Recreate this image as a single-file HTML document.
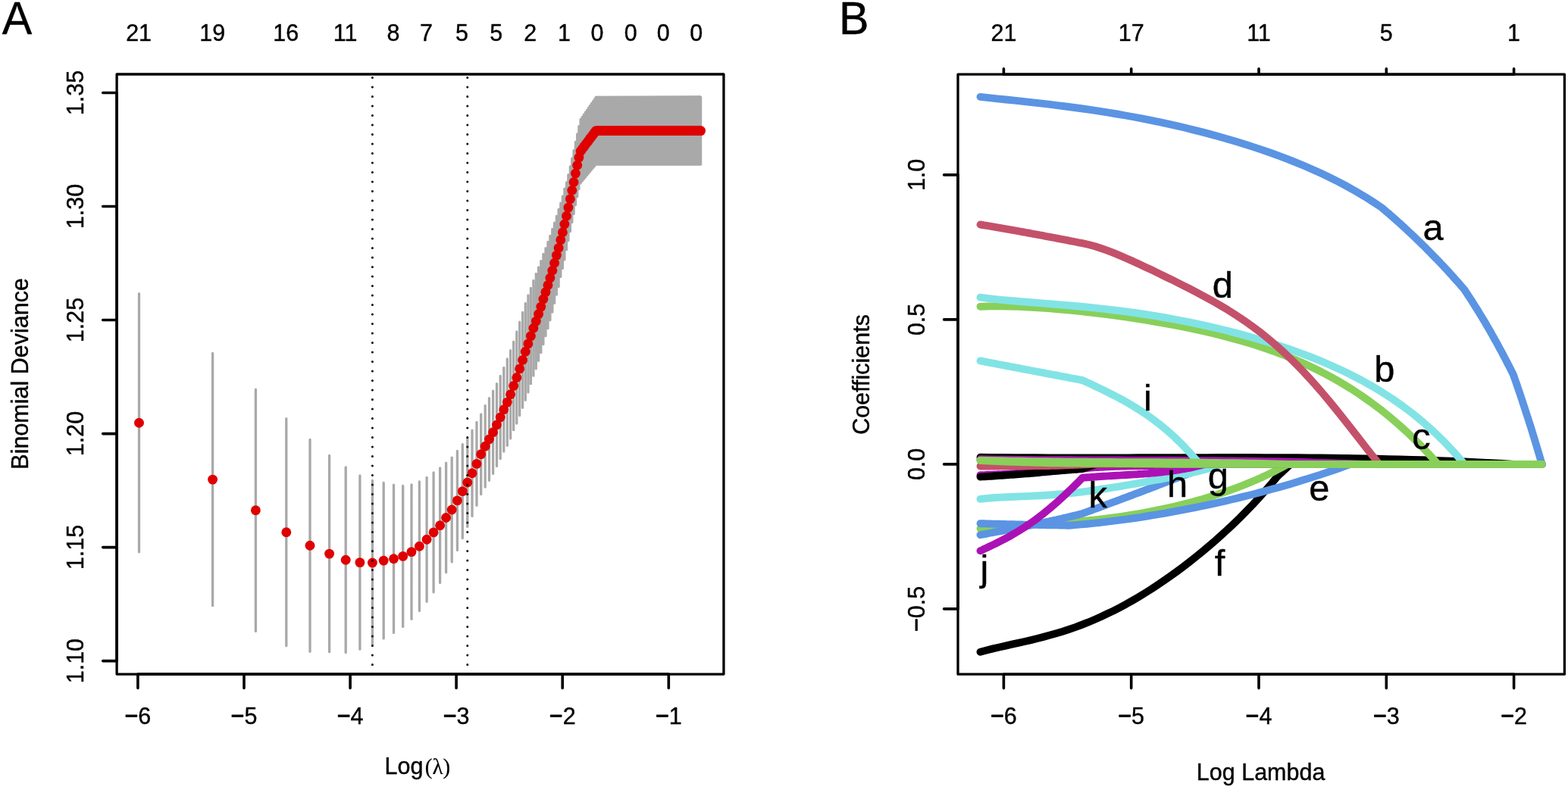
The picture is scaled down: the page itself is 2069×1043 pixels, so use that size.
<!DOCTYPE html>
<html lang="en"><head><meta charset="utf-8"><title>LASSO plots</title>
<style>html,body{margin:0;padding:0;background:#fff}body{width:2069px;height:1043px}svg{display:block}text{white-space:pre}</style></head>
<body><svg width="2069" height="1043" viewBox="0 0 2069 1043">
<rect width="2069" height="1043" fill="#fff"/>
<g id="panelA">
<path d="M183.5 387.6V728.8M280.6 466.5V799.7M337.4 514.2V833.4M377.8 552.7V852.7M409.0 580.3V860.3M434.6 601.5V860.7M456.2 616.8V861.6M474.9 628.0V857.2M491.4 634.5V851.5M506.2 637.3V842.9M519.5 640.2V835.4M531.7 641.4V827.4M543.0 639.8V817.4M553.4 636.0V806.6M563.1 630.3V794.3M572.1 623.9V781.9M580.6 618.0V769.4M588.6 611.2V755.8M596.2 604.1V741.9M603.4 595.4V726.4M610.3 586.6V710.6M616.8 578.6V695.4M623.0 568.2V681.4M629.0 557.5V667.3M634.7 546.9V652.5M640.2 535.5V643.1M645.5 525.7V634.3M650.6 516.2V625.4M655.5 506.6V615.4M660.2 496.3V605.7M664.8 485.5V596.1M669.3 473.9V588.3M673.6 462.7V578.9M677.7 451.1V567.7M681.8 438.0V559.0M685.7 425.2V548.6M689.6 412.5V538.3M693.3 400.3V528.3M696.9 389.9V517.9M700.4 380.5V506.7M703.9 370.4V496.0M707.3 361.5V486.7M710.6 352.9V476.3M713.8 344.6V465.6M716.9 335.4V454.6M720.0 327.7V443.5M723.0 319.4V433.6M725.9 311.3V422.7M728.8 302.5V412.1M731.6 294.2V400.2M734.4 285.3V388.9M737.1 276.4V378.4M739.8 268.1V365.3M742.4 259.1V354.3M744.9 249.2V342.8M747.5 240.9V329.7M749.9 230.6V317.6M752.4 219.8V305.6M754.8 209.1V293.5M757.1 198.6V282.4M759.4 187.5V270.5M761.7 177.0V259.7M763.9 166.6V249.6M766.1 157.4V241.8M768.3 154.3V239.1M770.4 151.2V236.5M772.5 148.2V234.0M774.6 145.2V231.4M776.6 142.2V228.9M778.6 139.3V226.5M780.6 136.5V224.1M782.6 133.6V221.7M784.5 130.8V219.4M786.4 128.1V217.1M788.3 128.1V217.1M790.1 128.1V217.1M791.9 128.1V217.1M793.7 128.1V217.1M795.5 128.1V217.1M797.2 128.1V217.1M799.0 128.1V217.1M800.7 128.1V217.1M802.4 128.1V217.1M804.0 128.1V217.1M805.7 128.1V217.1M807.3 128.1V217.1M808.9 128.1V217.1M810.5 128.1V217.1M812.1 128.1V217.1M813.6 128.1V217.1M815.1 128.1V217.1M816.7 128.1V217.1M818.2 128.1V217.1M819.7 128.1V217.1M821.1 128.1V217.1M822.6 128.1V217.1M824.0 128.1V217.1M825.4 128.1V217.1M826.9 128.1V217.1M828.3 128.1V217.1M829.6 128.1V217.1M831.0 128.1V217.1M832.4 128.1V217.1M833.7 128.1V217.1M835.0 128.1V217.1M836.4 128.1V217.1M837.7 128.1V217.1M839.0 128.1V217.1M840.2 128.1V217.1M841.5 128.1V217.1M842.8 128.1V217.1M844.0 128.1V217.1M845.2 128.1V217.1M846.5 128.1V217.1M847.7 128.1V217.1M848.9 128.1V217.1M850.1 128.1V217.1M851.3 128.1V217.1M852.4 128.1V217.1M853.6 128.1V217.1M854.7 128.1V217.1M855.9 128.1V217.1M857.0 128.1V217.1M858.1 128.1V217.1M859.3 128.1V217.1M860.4 128.1V217.1M861.5 128.1V217.1M862.6 128.1V217.1M863.6 128.1V217.1M864.7 128.1V217.1M865.8 128.1V217.1M866.8 128.1V217.1M867.9 128.1V217.1M868.9 128.1V217.1M870.0 128.1V217.1M871.0 128.1V217.1M872.0 128.1V217.1M873.0 128.1V217.1M874.0 128.1V217.1M875.0 128.1V217.1M876.0 128.1V217.1M877.0 128.1V217.1M878.0 128.1V217.1M878.9 128.1V217.1M879.9 128.1V217.1M880.8 128.1V217.1M881.8 128.1V217.1M882.7 128.1V217.1M883.7 128.1V217.1M884.6 128.1V217.1M885.5 128.1V217.1M886.4 128.1V217.1M887.4 128.1V217.1M888.3 128.1V217.1M889.2 128.1V217.1M890.1 128.1V217.1M890.9 128.1V217.1M891.8 128.1V217.1M892.7 128.1V217.1M893.6 128.1V217.1M894.4 128.1V217.1M895.3 128.1V217.1M896.2 128.1V217.1M897.0 128.1V217.1M897.8 128.1V217.1M898.7 128.1V217.1M899.5 128.1V217.1M900.4 128.1V217.1M901.2 128.1V217.1M902.0 128.1V217.1M902.8 128.1V217.1M903.6 128.1V217.1M904.4 128.1V217.1M905.2 128.1V217.1M906.0 128.1V217.1M906.8 128.1V217.1M907.6 128.1V217.1M908.4 128.1V217.1M909.2 128.1V217.1M909.9 128.1V217.1M910.7 128.1V217.1M911.5 128.1V217.1M912.2 128.1V217.1M913.0 128.1V217.1M913.7 128.1V217.1M914.5 128.1V217.1M915.2 128.1V217.1M916.0 128.1V217.1M916.7 128.1V217.1M917.5 128.1V217.1M918.2 128.1V217.1M918.9 128.1V217.1M919.6 128.1V217.1M920.4 128.1V217.1M921.1 128.1V217.1M921.8 128.1V217.1M922.5 128.1V217.1M923.2 128.1V217.1M923.9 128.1V217.1M924.6 128.1V217.1" stroke="#a9a9a9" stroke-width="3.3" stroke-linecap="round" fill="none"/>
<g fill="#df0000"><circle cx="183.5" cy="558.2" r="6.45"/><circle cx="280.6" cy="633.1" r="6.45"/><circle cx="337.4" cy="673.8" r="6.45"/><circle cx="377.8" cy="702.7" r="6.45"/><circle cx="409.0" cy="720.3" r="6.45"/><circle cx="434.6" cy="731.1" r="6.45"/><circle cx="456.2" cy="739.2" r="6.45"/><circle cx="474.9" cy="742.6" r="6.45"/><circle cx="491.4" cy="743.0" r="6.45"/><circle cx="506.2" cy="740.1" r="6.45"/><circle cx="519.5" cy="737.8" r="6.45"/><circle cx="531.7" cy="734.4" r="6.45"/><circle cx="543.0" cy="728.6" r="6.45"/><circle cx="553.4" cy="721.3" r="6.45"/><circle cx="563.1" cy="712.3" r="6.45"/><circle cx="572.1" cy="702.9" r="6.45"/><circle cx="580.6" cy="693.7" r="6.45"/><circle cx="588.6" cy="683.5" r="6.45"/><circle cx="596.2" cy="673.0" r="6.45"/><circle cx="603.4" cy="660.9" r="6.45"/><circle cx="610.3" cy="648.6" r="6.45"/><circle cx="616.8" cy="637.0" r="6.45"/><circle cx="623.0" cy="624.8" r="6.45"/><circle cx="629.0" cy="612.4" r="6.45"/><circle cx="634.7" cy="599.7" r="6.45"/><circle cx="640.2" cy="589.3" r="6.45"/><circle cx="645.5" cy="580.0" r="6.45"/><circle cx="650.6" cy="570.8" r="6.45"/><circle cx="655.5" cy="561.0" r="6.45"/><circle cx="660.2" cy="551.0" r="6.45"/><circle cx="664.8" cy="540.8" r="6.45"/><circle cx="669.3" cy="531.1" r="6.45"/><circle cx="673.6" cy="520.8" r="6.45"/><circle cx="677.7" cy="509.4" r="6.45"/><circle cx="681.8" cy="498.5" r="6.45"/><circle cx="685.7" cy="486.9" r="6.45"/><circle cx="689.6" cy="475.4" r="6.45"/><circle cx="693.3" cy="464.3" r="6.45"/><circle cx="696.9" cy="453.9" r="6.45"/><circle cx="700.4" cy="443.6" r="6.45"/><circle cx="703.9" cy="433.2" r="6.45"/><circle cx="707.3" cy="424.1" r="6.45"/><circle cx="710.6" cy="414.6" r="6.45"/><circle cx="713.8" cy="405.1" r="6.45"/><circle cx="716.9" cy="395.0" r="6.45"/><circle cx="720.0" cy="385.6" r="6.45"/><circle cx="723.0" cy="376.5" r="6.45"/><circle cx="725.9" cy="367.0" r="6.45"/><circle cx="728.8" cy="357.3" r="6.45"/><circle cx="731.6" cy="347.2" r="6.45"/><circle cx="734.4" cy="337.1" r="6.45"/><circle cx="737.1" cy="327.4" r="6.45"/><circle cx="739.8" cy="316.7" r="6.45"/><circle cx="742.4" cy="306.7" r="6.45"/><circle cx="744.9" cy="296.0" r="6.45"/><circle cx="747.5" cy="285.3" r="6.45"/><circle cx="749.9" cy="274.1" r="6.45"/><circle cx="752.4" cy="262.7" r="6.45"/><circle cx="754.8" cy="251.3" r="6.45"/><circle cx="757.1" cy="240.5" r="6.45"/><circle cx="759.4" cy="229.0" r="6.45"/><circle cx="761.7" cy="218.3" r="6.45"/><circle cx="763.9" cy="208.1" r="6.45"/><circle cx="766.1" cy="199.6" r="6.45"/><circle cx="768.3" cy="196.7" r="6.45"/><circle cx="770.4" cy="193.9" r="6.45"/><circle cx="772.5" cy="191.1" r="6.45"/><circle cx="774.6" cy="188.3" r="6.45"/><circle cx="776.6" cy="185.6" r="6.45"/><circle cx="778.6" cy="182.9" r="6.45"/><circle cx="780.6" cy="180.3" r="6.45"/><circle cx="782.6" cy="177.7" r="6.45"/><circle cx="784.5" cy="175.1" r="6.45"/><circle cx="786.4" cy="172.6" r="6.45"/><circle cx="788.3" cy="172.6" r="6.45"/><circle cx="790.1" cy="172.6" r="6.45"/><circle cx="791.9" cy="172.6" r="6.45"/><circle cx="793.7" cy="172.6" r="6.45"/><circle cx="795.5" cy="172.6" r="6.45"/><circle cx="797.2" cy="172.6" r="6.45"/><circle cx="799.0" cy="172.6" r="6.45"/><circle cx="800.7" cy="172.6" r="6.45"/><circle cx="802.4" cy="172.6" r="6.45"/><circle cx="804.0" cy="172.6" r="6.45"/><circle cx="805.7" cy="172.6" r="6.45"/><circle cx="807.3" cy="172.6" r="6.45"/><circle cx="808.9" cy="172.6" r="6.45"/><circle cx="810.5" cy="172.6" r="6.45"/><circle cx="812.1" cy="172.6" r="6.45"/><circle cx="813.6" cy="172.6" r="6.45"/><circle cx="815.1" cy="172.6" r="6.45"/><circle cx="816.7" cy="172.6" r="6.45"/><circle cx="818.2" cy="172.6" r="6.45"/><circle cx="819.7" cy="172.6" r="6.45"/><circle cx="821.1" cy="172.6" r="6.45"/><circle cx="822.6" cy="172.6" r="6.45"/><circle cx="824.0" cy="172.6" r="6.45"/><circle cx="825.4" cy="172.6" r="6.45"/><circle cx="826.9" cy="172.6" r="6.45"/><circle cx="828.3" cy="172.6" r="6.45"/><circle cx="829.6" cy="172.6" r="6.45"/><circle cx="831.0" cy="172.6" r="6.45"/><circle cx="832.4" cy="172.6" r="6.45"/><circle cx="833.7" cy="172.6" r="6.45"/><circle cx="835.0" cy="172.6" r="6.45"/><circle cx="836.4" cy="172.6" r="6.45"/><circle cx="837.7" cy="172.6" r="6.45"/><circle cx="839.0" cy="172.6" r="6.45"/><circle cx="840.2" cy="172.6" r="6.45"/><circle cx="841.5" cy="172.6" r="6.45"/><circle cx="842.8" cy="172.6" r="6.45"/><circle cx="844.0" cy="172.6" r="6.45"/><circle cx="845.2" cy="172.6" r="6.45"/><circle cx="846.5" cy="172.6" r="6.45"/><circle cx="847.7" cy="172.6" r="6.45"/><circle cx="848.9" cy="172.6" r="6.45"/><circle cx="850.1" cy="172.6" r="6.45"/><circle cx="851.3" cy="172.6" r="6.45"/><circle cx="852.4" cy="172.6" r="6.45"/><circle cx="853.6" cy="172.6" r="6.45"/><circle cx="854.7" cy="172.6" r="6.45"/><circle cx="855.9" cy="172.6" r="6.45"/><circle cx="857.0" cy="172.6" r="6.45"/><circle cx="858.1" cy="172.6" r="6.45"/><circle cx="859.3" cy="172.6" r="6.45"/><circle cx="860.4" cy="172.6" r="6.45"/><circle cx="861.5" cy="172.6" r="6.45"/><circle cx="862.6" cy="172.6" r="6.45"/><circle cx="863.6" cy="172.6" r="6.45"/><circle cx="864.7" cy="172.6" r="6.45"/><circle cx="865.8" cy="172.6" r="6.45"/><circle cx="866.8" cy="172.6" r="6.45"/><circle cx="867.9" cy="172.6" r="6.45"/><circle cx="868.9" cy="172.6" r="6.45"/><circle cx="870.0" cy="172.6" r="6.45"/><circle cx="871.0" cy="172.6" r="6.45"/><circle cx="872.0" cy="172.6" r="6.45"/><circle cx="873.0" cy="172.6" r="6.45"/><circle cx="874.0" cy="172.6" r="6.45"/><circle cx="875.0" cy="172.6" r="6.45"/><circle cx="876.0" cy="172.6" r="6.45"/><circle cx="877.0" cy="172.6" r="6.45"/><circle cx="878.0" cy="172.6" r="6.45"/><circle cx="878.9" cy="172.6" r="6.45"/><circle cx="879.9" cy="172.6" r="6.45"/><circle cx="880.8" cy="172.6" r="6.45"/><circle cx="881.8" cy="172.6" r="6.45"/><circle cx="882.7" cy="172.6" r="6.45"/><circle cx="883.7" cy="172.6" r="6.45"/><circle cx="884.6" cy="172.6" r="6.45"/><circle cx="885.5" cy="172.6" r="6.45"/><circle cx="886.4" cy="172.6" r="6.45"/><circle cx="887.4" cy="172.6" r="6.45"/><circle cx="888.3" cy="172.6" r="6.45"/><circle cx="889.2" cy="172.6" r="6.45"/><circle cx="890.1" cy="172.6" r="6.45"/><circle cx="890.9" cy="172.6" r="6.45"/><circle cx="891.8" cy="172.6" r="6.45"/><circle cx="892.7" cy="172.6" r="6.45"/><circle cx="893.6" cy="172.6" r="6.45"/><circle cx="894.4" cy="172.6" r="6.45"/><circle cx="895.3" cy="172.6" r="6.45"/><circle cx="896.2" cy="172.6" r="6.45"/><circle cx="897.0" cy="172.6" r="6.45"/><circle cx="897.8" cy="172.6" r="6.45"/><circle cx="898.7" cy="172.6" r="6.45"/><circle cx="899.5" cy="172.6" r="6.45"/><circle cx="900.4" cy="172.6" r="6.45"/><circle cx="901.2" cy="172.6" r="6.45"/><circle cx="902.0" cy="172.6" r="6.45"/><circle cx="902.8" cy="172.6" r="6.45"/><circle cx="903.6" cy="172.6" r="6.45"/><circle cx="904.4" cy="172.6" r="6.45"/><circle cx="905.2" cy="172.6" r="6.45"/><circle cx="906.0" cy="172.6" r="6.45"/><circle cx="906.8" cy="172.6" r="6.45"/><circle cx="907.6" cy="172.6" r="6.45"/><circle cx="908.4" cy="172.6" r="6.45"/><circle cx="909.2" cy="172.6" r="6.45"/><circle cx="909.9" cy="172.6" r="6.45"/><circle cx="910.7" cy="172.6" r="6.45"/><circle cx="911.5" cy="172.6" r="6.45"/><circle cx="912.2" cy="172.6" r="6.45"/><circle cx="913.0" cy="172.6" r="6.45"/><circle cx="913.7" cy="172.6" r="6.45"/><circle cx="914.5" cy="172.6" r="6.45"/><circle cx="915.2" cy="172.6" r="6.45"/><circle cx="916.0" cy="172.6" r="6.45"/><circle cx="916.7" cy="172.6" r="6.45"/><circle cx="917.5" cy="172.6" r="6.45"/><circle cx="918.2" cy="172.6" r="6.45"/><circle cx="918.9" cy="172.6" r="6.45"/><circle cx="919.6" cy="172.6" r="6.45"/><circle cx="920.4" cy="172.6" r="6.45"/><circle cx="921.1" cy="172.6" r="6.45"/><circle cx="921.8" cy="172.6" r="6.45"/><circle cx="922.5" cy="172.6" r="6.45"/><circle cx="923.2" cy="172.6" r="6.45"/><circle cx="923.9" cy="172.6" r="6.45"/><circle cx="924.6" cy="172.6" r="6.45"/></g>
<line x1="491.4" y1="890.05" x2="491.4" y2="98.0" stroke="#000" stroke-width="3" stroke-dasharray="0.01 12.49" stroke-linecap="round"/>
<line x1="616.8" y1="890.05" x2="616.8" y2="98.0" stroke="#000" stroke-width="3" stroke-dasharray="0.01 12.49" stroke-linecap="round"/>
<rect x="154.1" y="98.0" width="800.85" height="792.05" fill="none" stroke="#000" stroke-width="3.3" stroke-linejoin="round"/>
<path d="M181.9 890.05H882.3M154.1 872.6V122.5M181.9 890.05v18.4M322.0 890.05v18.4M462.1 890.05v18.4M602.1 890.05v18.4M742.2 890.05v18.4M882.3 890.05v18.4M154.1 872.6h-18.4M154.1 722.6h-18.4M154.1 572.6h-18.4M154.1 422.5h-18.4M154.1 272.5h-18.4M154.1 122.5h-18.4" stroke="#000" stroke-width="3.6" stroke-linecap="round" fill="none"/>
<g font-family="'Liberation Sans', Arial, Helvetica, sans-serif" fill="#000" stroke="#000" stroke-width="0.4" stroke-linejoin="round">
<text transform="translate(181.90 955.80) scale(1 1.047)" font-size="30.5" text-anchor="middle"><tspan stroke-width="0.9">−</tspan>6</text>
<text transform="translate(321.98 955.80) scale(1 1.047)" font-size="30.5" text-anchor="middle"><tspan stroke-width="0.9">−</tspan>5</text>
<text transform="translate(462.06 955.80) scale(1 1.047)" font-size="30.5" text-anchor="middle"><tspan stroke-width="0.9">−</tspan>4</text>
<text transform="translate(602.14 955.80) scale(1 1.047)" font-size="30.5" text-anchor="middle"><tspan stroke-width="0.9">−</tspan>3</text>
<text transform="translate(742.22 955.80) scale(1 1.047)" font-size="30.5" text-anchor="middle"><tspan stroke-width="0.9">−</tspan>2</text>
<text transform="translate(882.30 955.80) scale(1 1.047)" font-size="30.5" text-anchor="middle"><tspan stroke-width="0.9">−</tspan>1</text>
<text transform="translate(110.00 872.60) rotate(-90) scale(1 1.047)" font-size="30.5" text-anchor="middle">1.10</text>
<text transform="translate(110.00 722.58) rotate(-90) scale(1 1.047)" font-size="30.5" text-anchor="middle">1.15</text>
<text transform="translate(110.00 572.56) rotate(-90) scale(1 1.047)" font-size="30.5" text-anchor="middle">1.20</text>
<text transform="translate(110.00 422.54) rotate(-90) scale(1 1.047)" font-size="30.5" text-anchor="middle">1.25</text>
<text transform="translate(110.00 272.52) rotate(-90) scale(1 1.047)" font-size="30.5" text-anchor="middle">1.30</text>
<text transform="translate(110.00 122.50) rotate(-90) scale(1 1.047)" font-size="30.5" text-anchor="middle">1.35</text>
<text transform="translate(183.10 54.00) scale(1 1.047)" font-size="30.5" text-anchor="middle">21</text>
<text transform="translate(280.19 54.00) scale(1 1.047)" font-size="30.5" text-anchor="middle">19</text>
<text transform="translate(377.29 54.00) scale(1 1.047)" font-size="30.5" text-anchor="middle">16</text>
<text transform="translate(455.68 54.00) scale(1 1.047)" font-size="30.5" text-anchor="middle">11</text>
<text transform="translate(518.99 54.00) scale(1 1.047)" font-size="30.5" text-anchor="middle">8</text>
<text transform="translate(562.44 54.00) scale(1 1.047)" font-size="30.5" text-anchor="middle">7</text>
<text transform="translate(609.57 54.00) scale(1 1.047)" font-size="30.5" text-anchor="middle">5</text>
<text transform="translate(654.79 54.00) scale(1 1.047)" font-size="30.5" text-anchor="middle">5</text>
<text transform="translate(699.83 54.00) scale(1 1.047)" font-size="30.5" text-anchor="middle">2</text>
<text transform="translate(744.44 54.00) scale(1 1.047)" font-size="30.5" text-anchor="middle">1</text>
<text transform="translate(787.89 54.00) scale(1 1.047)" font-size="30.5" text-anchor="middle">0</text>
<text transform="translate(832.33 54.00) scale(1 1.047)" font-size="30.5" text-anchor="middle">0</text>
<text transform="translate(875.32 54.00) scale(1 1.047)" font-size="30.5" text-anchor="middle">0</text>
<text transform="translate(918.83 54.00) scale(1 1.047)" font-size="30.5" text-anchor="middle">0</text>
<text transform="translate(36.50 493.40) rotate(-90) scale(1 1.047)" font-size="30.5" text-anchor="middle">Binomial Deviance</text>
<text transform="translate(510.1 1021.8) scale(1 1.047)" font-size="30.5" text-anchor="start" x="-2.5">Log<tspan font-family="'Liberation Serif', 'Times New Roman', Times, serif" font-size="29" stroke-width="0.2" dx="2.3">(λ)</tspan></text>
<text transform="translate(2.70 45.00) scale(1 1.035)" font-size="59.3" text-anchor="start">A</text>
</g>
</g>
<g id="panelB">
<path d="M1293.5 603.7L1308.5 603.9L1323.4 604.0L1338.4 604.2L1353.4 604.3L1368.3 604.3L1383.3 604.4L1398.3 604.4L1413.2 604.4L1428.2 604.5L1443.2 604.4L1458.1 604.4L1473.1 604.4L1488.1 604.4L1503.1 604.3L1518.0 604.3L1533.0 604.2L1548.0 604.2L1562.9 604.1L1577.9 604.1L1592.9 604.1L1607.8 604.0L1622.8 604.0L1637.8 604.0L1652.7 604.0L1667.7 604.1L1682.7 604.1L1697.6 604.2L1712.6 604.3L1727.6 604.4L1742.5 604.5L1757.5 604.7L1772.5 604.9L1787.4 605.2L1802.4 605.4L1817.4 605.7L1832.4 606.1L1847.3 606.4L1862.3 606.9L1877.3 607.3L1892.2 607.9L1907.2 608.4L1922.2 609.0L1937.1 609.7L1952.1 610.4L1967.1 611.2L1982.0 612.0L1997.0 612.9L2034.6 612.9" stroke="#000000" stroke-width="9.9" stroke-linecap="round" stroke-linejoin="round" fill="none"/>
<path d="M1293.5 606.3L1304.3 606.4L1315.1 606.6L1325.8 606.7L1336.6 606.8L1347.4 606.9L1358.2 607.0L1368.9 607.1L1379.7 607.1L1390.5 607.2L1401.3 607.3L1412.0 607.3L1422.8 607.4L1433.6 607.4L1444.4 607.4L1455.1 607.5L1465.9 607.5L1476.7 607.5L1487.5 607.6L1498.3 607.6L1509.0 607.6L1519.8 607.7L1530.6 607.7L1541.4 607.8L1552.1 607.8L1562.9 607.9L1573.7 608.0L1584.5 608.1L1595.2 608.1L1606.0 608.2L1616.8 608.4L1627.6 608.5L1638.4 608.6L1649.1 608.8L1659.9 608.9L1670.7 609.1L1681.5 609.3L1692.2 609.5L1703.0 609.8L1713.8 610.0L1724.6 610.3L1735.3 610.6L1746.1 610.9L1756.9 611.3L1767.7 611.6L1778.4 612.0L1789.2 612.5L1800.0 612.9L2034.6 612.9" stroke="#ab12b5" stroke-width="9.9" stroke-linecap="round" stroke-linejoin="round" fill="none"/>
<path d="M1293.5 627.2L1296.7 627.1L1299.9 627.0L1303.0 626.8L1306.2 626.7L1309.4 626.6L1312.6 626.4L1315.8 626.3L1318.9 626.1L1322.1 626.0L1325.3 625.8L1328.5 625.7L1331.7 625.5L1334.9 625.3L1338.0 625.2L1341.2 625.0L1344.4 624.8L1347.6 624.6L1350.8 624.4L1353.9 624.3L1357.1 624.1L1360.3 623.9L1363.5 623.7L1366.7 623.5L1369.8 623.3L1373.0 623.1L1376.2 622.8L1379.4 622.6L1382.6 622.4L1385.7 622.2L1388.9 621.9L1392.1 621.7L1395.3 621.4L1398.5 621.2L1401.6 620.9L1404.8 620.7L1408.0 620.4L1411.2 620.2L1414.4 619.9L1417.6 619.6L1420.7 619.3L1423.9 619.1L1427.1 618.8L1430.3 618.5L1433.5 618.2L1436.6 617.9L1439.8 617.6L1443.0 617.3L1445.8 617.1L1448.6 617.0L1451.4 616.8L1454.2 616.7L1457.0 616.5L1459.9 616.4L1462.7 616.3L1465.5 616.1L1468.3 616.0L1471.1 615.9L1473.9 615.8L1476.7 615.7L1479.5 615.6L1482.3 615.6L1485.1 615.5L1487.9 615.4L1490.7 615.4L1493.6 615.3L1496.4 615.3L1499.2 615.3L1502.0 615.2L1504.8 615.2L1507.6 615.1L1510.4 615.1L1513.2 615.1L1516.0 615.0L1518.8 615.0L1521.6 615.0L1524.4 614.9L1527.3 614.9L1530.1 614.8L1532.9 614.8L1535.7 614.7L1538.5 614.6L1541.3 614.6L1544.1 614.5L1546.9 614.4L1549.7 614.3L1552.5 614.1L1555.3 614.0L1558.1 613.9L1561.0 613.7L1563.8 613.6L1566.6 613.4L1569.4 613.2L1572.2 613.1L1575.0 612.9L2034.6 612.9" stroke="#ab12b5" stroke-width="9.9" stroke-linecap="round" stroke-linejoin="round" fill="none"/>
<path d="M1293.5 629.6L1296.4 629.4L1299.2 629.3L1302.1 629.1L1304.9 628.9L1307.8 628.7L1310.7 628.5L1313.5 628.3L1316.4 628.1L1319.3 627.9L1322.1 627.8L1325.0 627.6L1327.8 627.3L1330.7 627.1L1333.6 626.9L1336.4 626.7L1339.3 626.5L1342.1 626.3L1345.0 626.1L1347.9 625.9L1350.7 625.6L1353.6 625.4L1356.5 625.2L1359.3 625.0L1362.2 624.7L1365.0 624.5L1367.9 624.2L1370.8 624.0L1373.6 623.7L1376.5 623.4L1379.4 623.2L1382.2 622.9L1385.1 622.6L1387.9 622.4L1390.8 622.1L1393.7 621.9L1396.5 621.6L1399.4 621.4L1402.2 621.1L1405.1 620.9L1408.0 620.6L1410.8 620.4L1413.7 620.2L1416.6 619.9L1419.4 619.7L1422.3 619.5L1425.1 619.2L1428.0 619.0L1447.0 612.9L2034.6 612.9" stroke="#000000" stroke-width="9.9" stroke-linecap="round" stroke-linejoin="round" fill="none"/>
<path d="M1293.5 615.5L1296.6 615.5L1299.7 615.5L1302.9 615.5L1306.0 615.5L1309.1 615.5L1312.2 615.5L1315.3 615.5L1318.4 615.5L1321.6 615.4L1324.7 615.4L1327.8 615.4L1330.9 615.4L1334.0 615.4L1337.1 615.4L1340.3 615.3L1343.4 615.3L1346.5 615.3L1349.6 615.3L1352.7 615.3L1355.8 615.2L1359.0 615.2L1362.1 615.2L1365.2 615.1L1368.3 615.1L1371.4 615.1L1374.5 615.1L1377.7 615.0L1380.8 615.0L1383.9 615.0L1387.0 614.9L1390.1 614.8L1393.2 614.8L1396.4 614.7L1399.5 614.6L1402.6 614.5L1405.7 614.4L1408.8 614.3L1411.9 614.1L1415.1 614.0L1418.2 613.9L1421.3 613.8L1424.4 613.6L1427.5 613.5L1430.6 613.3L1433.8 613.2L1436.9 613.0L1440.0 612.9L2034.6 612.9" stroke="#c4516a" stroke-width="9.9" stroke-linecap="round" stroke-linejoin="round" fill="none"/>
<path d="M1293.5 860.7L1301.9 858.5L1310.2 856.4L1318.6 854.5L1326.9 852.6L1335.3 850.7L1343.6 848.9L1352.0 847.0L1360.3 845.1L1368.7 843.0L1377.0 840.9L1385.4 838.6L1393.7 836.2L1402.1 833.7L1410.4 831.0L1418.8 828.1L1427.1 825.0L1435.5 821.7L1443.8 818.2L1452.2 814.5L1460.5 810.6L1468.9 806.6L1477.2 802.3L1485.6 797.8L1493.9 793.1L1502.3 788.2L1510.6 783.1L1519.0 777.9L1527.3 772.4L1535.7 766.7L1544.0 760.9L1552.4 754.9L1560.7 748.7L1569.1 742.3L1577.4 735.7L1585.8 728.9L1594.1 721.9L1602.5 714.7L1610.8 707.3L1619.2 699.7L1627.5 691.8L1635.9 683.7L1644.2 675.3L1652.6 666.6L1660.9 657.6L1669.3 648.3L1677.6 638.6L1686.0 628.5L1703.0 612.9L2034.6 612.9" stroke="#000000" stroke-width="9.9" stroke-linecap="round" stroke-linejoin="round" fill="none"/>
<path d="M1293.5 404.7L1306.4 404.4L1319.2 404.3L1332.1 404.5L1344.9 404.9L1357.8 405.5L1370.6 406.2L1383.5 407.1L1396.3 408.2L1409.2 409.3L1422.0 410.6L1434.9 412.0L1447.7 413.6L1460.6 415.2L1473.4 416.9L1486.3 418.7L1499.1 420.6L1512.0 422.7L1524.8 424.8L1537.7 427.1L1550.5 429.5L1563.4 432.0L1576.2 434.6L1589.1 437.5L1601.9 440.5L1614.8 443.7L1627.6 447.1L1640.5 450.7L1653.3 454.6L1666.2 458.8L1679.0 463.2L1691.9 468.0L1704.7 473.1L1717.6 478.6L1730.4 484.5L1743.3 490.8L1756.1 497.6L1769.0 504.9L1781.8 512.7L1794.7 521.1L1807.5 530.1L1820.4 539.7L1833.2 550.0L1846.1 561.0L1858.9 572.7L1871.8 585.3L1884.6 598.6L1897.5 612.9L2034.6 612.9" stroke="#88d05a" stroke-width="9.9" stroke-linecap="round" stroke-linejoin="round" fill="none"/>
<path d="M1293.5 697.8L1302.1 696.9L1310.8 696.1L1319.4 695.4L1328.0 694.7L1336.6 694.2L1345.3 693.6L1353.9 693.1L1362.5 692.6L1371.1 692.1L1379.8 691.6L1388.4 691.0L1397.0 690.4L1405.7 689.8L1414.3 689.1L1422.9 688.4L1431.5 687.6L1440.2 686.8L1448.8 685.8L1457.4 684.8L1466.1 683.7L1474.7 682.6L1483.3 681.3L1491.9 680.0L1500.6 678.6L1509.2 677.1L1517.8 675.4L1526.4 673.7L1535.1 671.9L1543.7 670.0L1552.3 668.0L1561.0 665.9L1569.6 663.7L1578.2 661.4L1586.8 658.9L1595.5 656.3L1604.1 653.6L1612.7 650.8L1621.4 647.8L1630.0 644.7L1638.6 641.4L1647.2 637.9L1655.9 634.3L1664.5 630.5L1673.1 626.4L1681.7 622.2L1690.4 617.7L1699.0 612.9L2034.6 612.9" stroke="#88d05a" stroke-width="9.9" stroke-linecap="round" stroke-linejoin="round" fill="none"/>
<path d="M1293.5 127.9L1304.8 129.1L1316.0 130.3L1327.3 131.5L1338.6 132.7L1349.8 133.9L1361.1 135.1L1372.4 136.4L1383.6 137.7L1394.9 139.1L1406.2 140.5L1417.4 142.0L1428.7 143.5L1440.0 145.1L1451.3 146.8L1462.5 148.6L1473.8 150.5L1485.1 152.5L1496.3 154.5L1507.6 156.6L1518.9 158.9L1530.1 161.2L1541.4 163.7L1552.7 166.2L1563.9 168.8L1575.2 171.6L1586.5 174.4L1597.7 177.4L1609.0 180.5L1620.3 183.7L1631.5 187.0L1642.8 190.5L1654.1 194.1L1665.3 197.9L1676.6 201.8L1687.9 205.9L1699.2 210.1L1710.4 214.6L1721.7 219.3L1733.0 224.2L1744.2 229.3L1755.5 234.7L1766.8 240.4L1778.0 246.4L1789.3 252.7L1800.6 259.4L1811.8 266.5L1823.1 274.0L1825.4 276.0L1827.7 277.9L1830.0 279.9L1832.4 281.9L1834.7 283.9L1837.0 285.9L1839.3 288.0L1841.6 290.0L1843.9 292.1L1846.2 294.2L1848.6 296.3L1850.9 298.4L1853.2 300.5L1855.5 302.7L1857.8 304.8L1860.1 307.0L1862.5 309.2L1864.8 311.3L1867.1 313.5L1869.4 315.8L1871.7 318.0L1874.0 320.2L1876.3 322.5L1878.7 324.8L1881.0 327.1L1883.3 329.4L1885.6 331.7L1887.9 334.1L1890.2 336.4L1892.5 338.8L1894.9 341.2L1897.2 343.6L1899.5 346.0L1901.8 348.5L1904.1 350.9L1906.4 353.4L1908.8 355.9L1911.1 358.4L1913.4 361.0L1915.7 363.5L1918.0 366.1L1920.3 368.7L1922.6 371.3L1925.0 373.9L1927.3 376.6L1929.6 379.2L1931.9 381.9L1933.3 383.9L1934.7 386.0L1936.0 388.1L1937.4 390.2L1938.8 392.3L1940.2 394.4L1941.6 396.5L1943.0 398.7L1944.3 400.9L1945.7 403.1L1947.1 405.3L1948.5 407.5L1949.9 409.7L1951.3 412.0L1952.6 414.2L1954.0 416.5L1955.4 418.8L1956.8 421.1L1958.2 423.4L1959.6 425.7L1960.9 428.1L1962.3 430.5L1963.7 432.8L1965.1 435.2L1966.5 437.6L1967.9 440.1L1969.2 442.5L1970.6 445.0L1972.0 447.5L1973.4 449.9L1974.8 452.5L1976.2 455.0L1977.5 457.5L1978.9 460.1L1980.3 462.6L1981.7 465.2L1983.1 467.8L1984.5 470.5L1985.8 473.1L1987.2 475.7L1988.6 478.4L1990.0 481.1L1991.4 483.8L1992.8 486.5L1994.1 489.2L1995.5 491.9L1996.9 494.7L1997.7 497.0L1998.5 499.3L1999.3 501.6L2000.1 503.9L2000.9 506.2L2001.7 508.5L2002.5 510.8L2003.3 513.2L2004.1 515.6L2004.9 517.9L2005.7 520.3L2006.5 522.7L2007.3 525.1L2008.1 527.5L2008.9 529.9L2009.7 532.4L2010.5 534.8L2011.3 537.3L2012.1 539.7L2012.9 542.2L2013.7 544.7L2014.5 547.1L2015.3 549.6L2016.2 552.2L2017.0 554.7L2017.8 557.2L2018.6 559.7L2019.4 562.3L2020.2 564.8L2021.0 567.4L2021.8 570.0L2022.6 572.6L2023.4 575.2L2024.2 577.8L2025.0 580.5L2025.8 583.1L2026.6 585.8L2027.4 588.4L2028.2 591.1L2029.0 593.8L2029.8 596.5L2030.6 599.2L2031.4 601.9L2032.2 604.7L2033.0 607.4L2033.8 610.1L2034.6 612.9" stroke="#5a94e3" stroke-width="9.9" stroke-linecap="round" stroke-linejoin="round" fill="none"/>
<path d="M1293.5 706.2L1296.4 705.7L1299.2 705.1L1302.1 704.6L1305.0 704.0L1307.8 703.5L1310.7 703.0L1313.6 702.4L1316.4 701.9L1319.3 701.4L1322.2 700.8L1325.0 700.3L1327.9 699.7L1330.8 699.2L1333.7 698.6L1336.5 698.1L1339.4 697.5L1342.3 697.0L1345.1 696.4L1348.0 695.9L1350.9 695.3L1353.7 694.7L1356.6 694.2L1359.5 693.6L1362.3 693.0L1365.2 692.4L1368.1 691.8L1370.9 691.2L1373.8 690.6L1376.7 690.0L1379.5 689.4L1382.4 688.8L1385.3 688.2L1388.1 687.6L1391.0 686.9L1393.9 686.3L1396.8 685.6L1399.6 685.0L1402.5 684.3L1405.4 683.6L1408.2 683.0L1411.1 682.3L1414.0 681.6L1416.8 680.9L1419.7 680.2L1422.6 679.5L1425.4 678.7L1428.3 678.0L1432.0 676.7L1435.6 675.3L1439.3 674.0L1442.9 672.7L1446.6 671.3L1450.2 670.0L1453.9 668.6L1457.5 667.3L1461.2 665.9L1464.8 664.5L1468.5 663.2L1472.1 661.8L1475.8 660.5L1479.4 659.1L1483.1 657.7L1486.8 656.3L1490.4 655.0L1494.1 653.6L1497.7 652.2L1501.4 650.8L1505.0 649.5L1508.7 648.1L1512.3 646.7L1516.0 645.3L1519.6 643.9L1523.3 642.5L1526.9 641.1L1530.6 639.7L1534.2 638.3L1537.9 636.9L1541.5 635.5L1545.2 634.1L1548.9 632.7L1552.5 631.3L1556.2 629.9L1559.8 628.5L1563.5 627.1L1567.1 625.7L1570.8 624.3L1574.4 622.8L1578.1 621.4L1581.7 620.0L1585.4 618.6L1589.0 617.2L1592.7 615.7L1596.3 614.3L1600.0 612.9L2034.6 612.9" stroke="#5a94e3" stroke-width="9.9" stroke-linecap="round" stroke-linejoin="round" fill="none"/>
<path d="M1293.5 691.2L1296.0 691.3L1298.5 691.3L1301.0 691.4L1303.5 691.5L1306.0 691.5L1308.5 691.6L1311.0 691.7L1313.4 691.7L1315.9 691.8L1318.4 691.8L1320.9 691.9L1323.4 692.0L1325.9 692.0L1328.4 692.1L1330.9 692.1L1333.4 692.2L1335.9 692.2L1338.4 692.3L1340.9 692.4L1343.4 692.4L1345.9 692.5L1348.4 692.5L1350.9 692.6L1353.3 692.6L1355.8 692.7L1358.3 692.7L1360.8 692.8L1363.3 692.8L1365.8 692.9L1368.3 692.9L1370.8 693.0L1373.3 693.0L1375.8 693.1L1378.3 693.1L1380.8 693.2L1383.3 693.2L1385.8 693.3L1388.3 693.3L1390.8 693.4L1393.2 693.4L1395.7 693.4L1398.2 693.5L1400.7 693.5L1403.2 693.6L1405.7 693.6L1408.2 693.7L1410.7 693.7L1418.6 693.1L1426.5 692.4L1434.4 691.7L1442.3 690.9L1450.2 690.1L1458.1 689.2L1466.0 688.2L1473.9 687.2L1481.8 686.2L1489.7 685.1L1497.6 684.0L1505.5 682.8L1513.4 681.5L1521.3 680.2L1529.2 678.9L1537.1 677.6L1545.0 676.1L1552.9 674.7L1560.8 673.2L1568.7 671.7L1576.6 670.1L1584.5 668.5L1592.4 666.8L1600.3 665.1L1608.2 663.4L1616.1 661.6L1624.0 659.7L1631.9 657.9L1639.8 655.9L1647.7 654.0L1655.6 652.0L1663.5 649.9L1671.4 647.8L1679.3 645.6L1687.2 643.4L1695.1 641.2L1703.0 638.9L1710.9 636.5L1718.8 634.1L1726.7 631.6L1734.6 629.1L1742.5 626.6L1750.4 623.9L1758.3 621.3L1766.2 618.5L1774.1 615.7L1782.0 612.9L2034.6 612.9" stroke="#5a94e3" stroke-width="9.9" stroke-linecap="round" stroke-linejoin="round" fill="none"/>
<path d="M1293.5 476.4L1296.4 476.9L1299.2 477.5L1302.1 478.0L1305.0 478.6L1307.8 479.1L1310.7 479.7L1313.6 480.2L1316.4 480.8L1319.3 481.3L1322.2 481.9L1325.0 482.4L1327.9 483.0L1330.8 483.5L1333.7 484.1L1336.5 484.6L1339.4 485.2L1342.3 485.7L1345.1 486.2L1348.0 486.8L1350.9 487.3L1353.7 487.9L1356.6 488.4L1359.5 489.0L1362.3 489.5L1365.2 490.1L1368.1 490.6L1370.9 491.1L1373.8 491.7L1376.7 492.2L1379.5 492.8L1382.4 493.3L1385.3 493.9L1388.1 494.4L1391.0 495.0L1393.9 495.5L1396.8 496.0L1399.6 496.6L1402.5 497.1L1405.4 497.7L1408.2 498.2L1411.1 498.8L1414.0 499.3L1416.8 499.8L1419.7 500.4L1422.6 500.9L1425.4 501.5L1428.3 502.0L1431.6 503.5L1434.9 505.1L1438.2 506.6L1441.5 508.1L1444.8 509.7L1448.0 511.3L1451.3 512.8L1454.6 514.4L1457.9 516.0L1461.2 517.6L1464.5 519.3L1467.8 521.0L1471.1 522.7L1474.4 524.4L1477.7 526.1L1481.0 527.9L1484.3 529.7L1487.5 531.6L1490.8 533.5L1494.1 535.5L1497.4 537.5L1500.7 539.5L1504.0 541.6L1507.3 543.7L1510.6 545.9L1513.9 548.2L1517.2 550.5L1520.5 552.9L1523.8 555.3L1527.0 557.8L1530.3 560.4L1533.6 563.0L1536.9 565.8L1540.2 568.6L1543.5 571.4L1546.8 574.4L1550.1 577.4L1553.4 580.6L1556.7 583.8L1560.0 587.1L1563.3 590.5L1566.5 594.0L1569.8 597.5L1573.1 601.2L1576.4 605.0L1579.7 608.9L1583.0 612.9L2034.6 612.9" stroke="#82e3e5" stroke-width="9.9" stroke-linecap="round" stroke-linejoin="round" fill="none"/>
<path d="M1293.5 658.9L1300.3 658.1L1307.1 657.5L1313.8 657.0L1320.6 656.6L1327.4 656.2L1334.2 656.0L1340.9 655.7L1347.7 655.4L1354.5 655.2L1361.3 654.9L1368.0 654.5L1374.8 654.2L1381.6 653.8L1388.4 653.3L1395.1 652.8L1401.9 652.2L1408.7 651.5L1415.5 650.8L1422.3 650.1L1429.0 649.3L1435.8 648.4L1442.6 647.5L1449.4 646.5L1456.1 645.5L1462.9 644.5L1469.7 643.4L1476.5 642.3L1483.2 641.2L1490.0 640.0L1496.8 638.8L1503.6 637.7L1510.4 636.5L1517.1 635.2L1523.9 634.0L1530.7 632.8L1537.5 631.5L1544.2 630.2L1551.0 628.9L1557.8 627.5L1564.6 626.0L1571.3 624.5L1578.1 622.9L1584.9 621.2L1591.7 619.4L1598.4 617.4L1605.2 615.3L1612.0 612.9L2034.6 612.9" stroke="#82e3e5" stroke-width="9.9" stroke-linecap="round" stroke-linejoin="round" fill="none"/>
<path d="M1293.5 392.7L1307.1 394.3L1320.7 395.8L1334.3 397.0L1347.9 398.2L1361.5 399.3L1375.1 400.4L1388.7 401.5L1402.3 402.6L1415.9 403.8L1429.5 405.0L1443.1 406.4L1456.6 407.9L1470.2 409.5L1483.8 411.2L1497.4 413.0L1511.0 415.0L1524.6 417.2L1538.2 419.5L1551.8 422.0L1565.4 424.6L1579.0 427.4L1592.6 430.4L1606.2 433.5L1619.8 436.8L1633.4 440.4L1647.0 444.0L1660.6 447.9L1674.2 452.1L1687.8 456.4L1701.4 461.0L1715.0 465.8L1728.6 470.9L1742.2 476.4L1755.8 482.2L1769.4 488.4L1782.9 495.0L1796.5 502.0L1810.1 509.6L1823.7 517.8L1837.3 526.6L1850.9 536.1L1864.5 546.4L1878.1 557.6L1891.7 569.8L1905.3 582.9L1918.9 597.3L1932.5 612.9L2034.6 612.9" stroke="#82e3e5" stroke-width="9.9" stroke-linecap="round" stroke-linejoin="round" fill="none"/>
<path d="M1293.5 296.5L1296.4 297.0L1299.2 297.5L1302.1 297.9L1305.0 298.4L1307.8 298.9L1310.7 299.4L1313.6 299.9L1316.4 300.4L1319.3 300.9L1322.2 301.4L1325.0 301.9L1327.9 302.4L1330.8 302.9L1333.7 303.4L1336.5 303.9L1339.4 304.4L1342.3 304.9L1345.1 305.4L1348.0 306.0L1350.9 306.5L1353.7 307.0L1356.6 307.5L1359.5 308.0L1362.3 308.6L1365.2 309.1L1368.1 309.6L1370.9 310.2L1373.8 310.7L1376.7 311.2L1379.5 311.8L1382.4 312.3L1385.3 312.8L1388.1 313.4L1391.0 313.9L1393.9 314.5L1396.8 315.0L1399.6 315.6L1402.5 316.1L1405.4 316.7L1408.2 317.2L1411.1 317.8L1414.0 318.4L1416.8 318.9L1419.7 319.5L1422.6 320.1L1425.4 320.6L1428.3 321.2L1436.6 323.0L1445.0 325.3L1453.3 328.0L1461.6 330.9L1470.0 334.2L1478.3 337.6L1486.6 341.2L1495.0 344.9L1503.3 348.8L1511.6 352.7L1520.0 356.6L1528.3 360.6L1536.6 364.7L1545.0 368.7L1553.3 372.9L1561.6 377.1L1570.0 381.3L1578.3 385.6L1586.6 390.1L1595.0 394.6L1603.3 399.3L1611.6 404.1L1620.0 409.1L1628.3 414.4L1636.7 419.8L1645.0 425.5L1653.3 431.5L1661.7 437.7L1670.0 444.3L1678.3 451.2L1686.7 458.5L1695.0 466.0L1703.3 474.0L1711.7 482.3L1720.0 490.9L1728.3 499.9L1736.7 509.2L1745.0 518.9L1753.3 528.8L1761.7 539.0L1770.0 549.4L1778.3 559.9L1786.7 570.6L1795.0 581.3L1803.3 592.0L1811.7 602.5L1820.0 612.9L2034.6 612.9" stroke="#c4516a" stroke-width="9.9" stroke-linecap="round" stroke-linejoin="round" fill="none"/>
<path d="M1293.5 727.2L1296.4 725.9L1299.2 724.5L1302.1 723.2L1305.0 721.8L1307.8 720.5L1310.7 719.1L1313.6 717.7L1316.4 716.3L1319.3 714.8L1322.2 713.4L1325.0 711.9L1327.9 710.3L1330.8 708.8L1333.7 707.2L1336.5 705.5L1339.4 703.9L1342.3 702.1L1345.1 700.4L1348.0 698.6L1350.9 696.8L1353.7 694.9L1356.6 693.0L1359.5 691.0L1362.3 689.0L1365.2 686.9L1368.1 684.8L1370.9 682.6L1373.8 680.4L1376.7 678.2L1379.5 675.9L1382.4 673.5L1385.3 671.2L1388.1 668.7L1391.0 666.2L1393.9 663.7L1396.8 661.2L1399.6 658.6L1402.5 655.9L1405.4 653.3L1408.2 650.6L1411.1 647.8L1414.0 645.1L1416.8 642.3L1419.7 639.4L1422.6 636.6L1425.4 633.7L1428.3 630.8L1431.7 630.5L1435.2 630.2L1438.6 630.0L1442.1 629.7L1445.5 629.5L1448.9 629.2L1452.4 629.0L1455.8 628.8L1459.3 628.6L1462.7 628.4L1466.1 628.2L1469.6 628.0L1473.0 627.8L1476.5 627.6L1479.9 627.4L1483.3 627.2L1486.8 627.0L1490.2 626.8L1493.7 626.6L1497.1 626.4L1500.5 626.2L1504.0 625.9L1507.4 625.7L1510.9 625.4L1514.3 625.2L1517.8 624.9L1521.2 624.6L1524.6 624.2L1528.1 623.9L1531.5 623.5L1535.0 623.1L1538.4 622.7L1541.8 622.3L1545.3 621.8L1548.7 621.3L1552.2 620.8L1555.6 620.3L1559.0 619.7L1562.5 619.1L1565.9 618.4L1569.4 617.8L1572.8 617.1L1576.2 616.3L1579.7 615.5L1583.1 614.7L1586.6 613.8L1590.0 612.9L2034.6 612.9" stroke="#ab12b5" stroke-width="9.9" stroke-linecap="round" stroke-linejoin="round" fill="none"/>
<path d="M1293.5 608.0L1299.2 608.3L1304.8 608.5L1310.5 608.8L1316.2 609.0L1321.9 609.2L1327.5 609.5L1333.2 609.7L1338.9 609.9L1344.5 610.1L1350.2 610.3L1355.9 610.4L1361.5 610.6L1367.2 610.8L1372.9 610.9L1378.6 611.0L1384.2 611.2L1389.9 611.3L1395.6 611.3L1401.2 611.4L1406.9 611.5L1412.6 611.5L1418.2 611.6L1423.9 611.6L1429.6 611.7L1435.3 611.7L1440.9 611.7L1446.6 611.8L1452.3 611.8L1457.9 611.8L1463.6 611.9L1469.3 611.9L1474.9 612.0L1480.6 612.0L1486.3 612.1L1492.0 612.1L1497.6 612.2L1503.3 612.2L1509.0 612.3L1514.6 612.3L1520.3 612.4L1526.0 612.5L1531.6 612.5L1537.3 612.6L1543.0 612.7L1548.7 612.8L1554.3 612.8L1560.0 612.9L2034.6 612.9" stroke="#88d05a" stroke-width="9.9" stroke-linecap="round" stroke-linejoin="round" fill="none"/>
<path d="M1293.5 607.7L1302.1 607.9L1310.8 608.1L1319.4 608.3L1328.1 608.5L1336.7 608.7L1345.4 608.8L1354.0 609.0L1362.7 609.1L1371.3 609.2L1380.0 609.3L1388.6 609.4L1397.3 609.5L1405.9 609.6L1414.6 609.7L1423.2 609.7L1431.9 609.8L1440.5 609.9L1449.2 609.9L1457.8 610.0L1466.5 610.0L1475.1 610.1L1483.8 610.1L1492.4 610.1L1501.1 610.2L1509.7 610.2L1518.4 610.3L1527.0 610.3L1535.7 610.4L1544.3 610.4L1553.0 610.5L1561.6 610.5L1570.3 610.6L1578.9 610.7L1587.6 610.8L1596.2 610.9L1604.9 611.0L1613.5 611.1L1622.2 611.2L1630.8 611.3L1639.5 611.5L1648.1 611.6L1656.8 611.8L1665.4 612.0L1674.1 612.2L1682.7 612.4L1691.4 612.6L1700.0 612.9L2034.6 612.9" stroke="#88d05a" stroke-width="9.9" stroke-linecap="round" stroke-linejoin="round" fill="none"/>
<rect x="1264.0" y="98.2" width="800.40" height="792.00" fill="none" stroke="#000" stroke-width="3.3" stroke-linejoin="round"/>
<path d="M1324.4 890.2H1997.6M1324.4 98.2H1997.6M1264.0 803.9V230.9M1324.4 890.2v18.4M1324.4 98.2v-7.5M1492.7 890.2v18.4M1492.7 98.2v-7.5M1661.0 890.2v18.4M1661.0 98.2v-7.5M1829.3 890.2v18.4M1829.3 98.2v-7.5M1997.6 890.2v18.4M1997.6 98.2v-7.5M1264.0 803.9h-18.4M1264.0 612.9h-18.4M1264.0 421.9h-18.4M1264.0 230.9h-18.4" stroke="#000" stroke-width="3.6" stroke-linecap="round" fill="none"/>
<g font-family="'Liberation Sans', Arial, Helvetica, sans-serif" fill="#000" stroke="#000" stroke-width="0.4" stroke-linejoin="round">
<text transform="translate(1324.40 955.80) scale(1 1.047)" font-size="30.5" text-anchor="middle"><tspan stroke-width="0.9">−</tspan>6</text>
<text transform="translate(1492.70 955.80) scale(1 1.047)" font-size="30.5" text-anchor="middle"><tspan stroke-width="0.9">−</tspan>5</text>
<text transform="translate(1661.00 955.80) scale(1 1.047)" font-size="30.5" text-anchor="middle"><tspan stroke-width="0.9">−</tspan>4</text>
<text transform="translate(1829.30 955.80) scale(1 1.047)" font-size="30.5" text-anchor="middle"><tspan stroke-width="0.9">−</tspan>3</text>
<text transform="translate(1997.60 955.80) scale(1 1.047)" font-size="30.5" text-anchor="middle"><tspan stroke-width="0.9">−</tspan>2</text>
<text transform="translate(1324.40 54.00) scale(1 1.047)" font-size="30.5" text-anchor="middle">21</text>
<text transform="translate(1492.70 54.00) scale(1 1.047)" font-size="30.5" text-anchor="middle">17</text>
<text transform="translate(1661.00 54.00) scale(1 1.047)" font-size="30.5" text-anchor="middle">11</text>
<text transform="translate(1829.30 54.00) scale(1 1.047)" font-size="30.5" text-anchor="middle">5</text>
<text transform="translate(1997.60 54.00) scale(1 1.047)" font-size="30.5" text-anchor="middle">1</text>
<text transform="translate(1220.00 803.90) rotate(-90) scale(1 1.047)" font-size="30.5" text-anchor="middle"><tspan stroke-width="0.9">−</tspan>0.5</text>
<text transform="translate(1220.00 612.90) rotate(-90) scale(1 1.047)" font-size="30.5" text-anchor="middle">0.0</text>
<text transform="translate(1220.00 421.90) rotate(-90) scale(1 1.047)" font-size="30.5" text-anchor="middle">0.5</text>
<text transform="translate(1220.00 230.90) rotate(-90) scale(1 1.047)" font-size="30.5" text-anchor="middle">1.0</text>
<text transform="translate(1147.20 494.40) rotate(-90) scale(1 1.047)" font-size="30.5" text-anchor="middle">Coefficients</text>
<text transform="translate(1663.60 1029.80) scale(1 1.047)" font-size="30.5" text-anchor="middle">Log Lambda</text>
<text transform="translate(1891.00 316.70)" font-size="48.8" text-anchor="middle">a</text>
<text transform="translate(1613.30 392.80)" font-size="48.8" text-anchor="middle">d</text>
<text transform="translate(1826.80 504.30)" font-size="48.8" text-anchor="middle">b</text>
<text transform="translate(1875.50 592.60)" font-size="48.8" text-anchor="middle">c</text>
<text transform="translate(1514.40 542.20)" font-size="48.8" text-anchor="middle">i</text>
<text transform="translate(1740.70 660.50)" font-size="48.8" text-anchor="middle">e</text>
<text transform="translate(1609.60 759.80)" font-size="48.8" text-anchor="middle">f</text>
<text transform="translate(1607.20 645.20)" font-size="48.8" text-anchor="middle">g</text>
<text transform="translate(1553.50 656.30)" font-size="48.8" text-anchor="middle">h</text>
<text transform="translate(1448.60 670.40)" font-size="48.8" text-anchor="middle">k</text>
<text transform="translate(1299.00 766.70)" font-size="48.8" text-anchor="middle">j</text>
<text transform="translate(1107.00 45.00) scale(1 1.035)" font-size="59.3" text-anchor="start">B</text>
</g>
</g>
</svg></body></html>
